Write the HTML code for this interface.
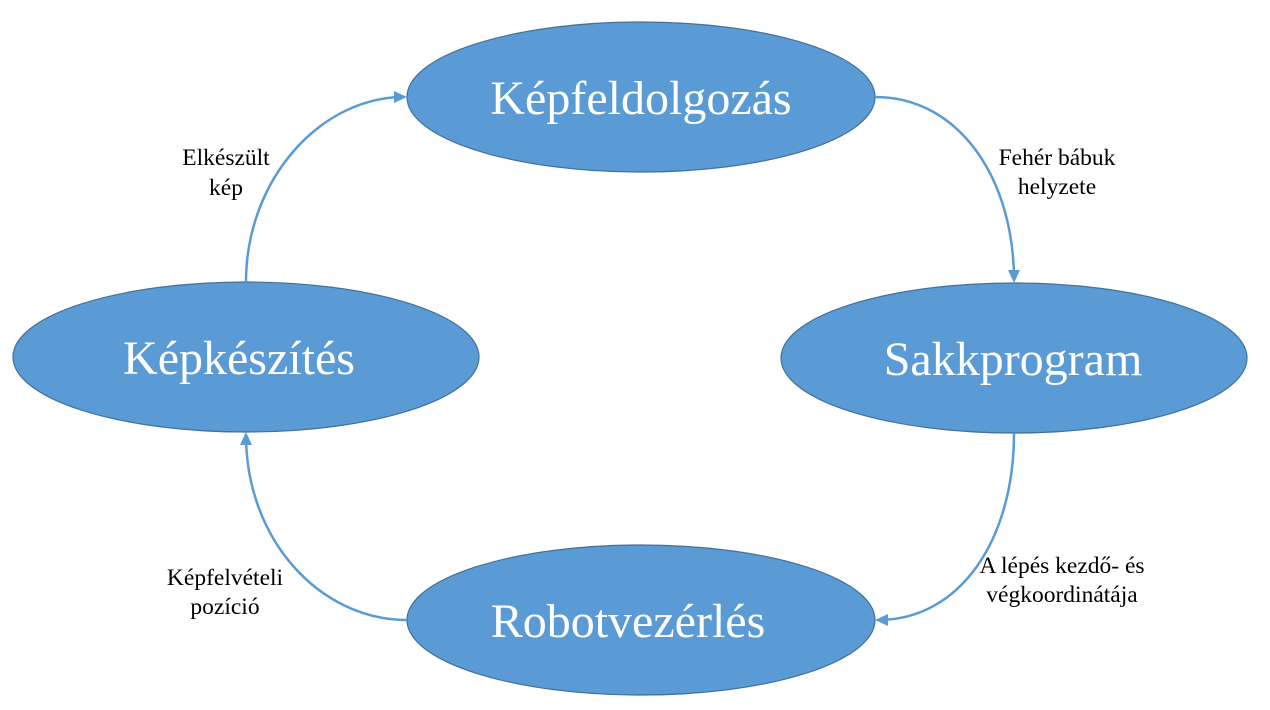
<!DOCTYPE html>
<html><head><meta charset="utf-8"><style>
html,body{margin:0;padding:0;background:#fff;}
svg{display:block;}
text{font-family:"Liberation Serif",serif;}
</style></head><body>
<svg width="1270" height="710" viewBox="0 0 1270 710" xmlns="http://www.w3.org/2000/svg">
<defs>
<marker id="a" markerWidth="13" markerHeight="12" refX="10" refY="6" orient="auto" markerUnits="userSpaceOnUse">
<path d="M0,0 L13,6 L0,12 z" fill="#5b9bd5"/>
</marker>
</defs>
<g fill="#5b9bd5" stroke="#41719c" stroke-width="1.2">
<ellipse cx="641" cy="97" rx="234" ry="75"/>
<ellipse cx="246" cy="357" rx="233" ry="75"/>
<ellipse cx="1014" cy="358" rx="233" ry="75"/>
<ellipse cx="641" cy="620" rx="234" ry="75"/>
</g>
<g fill="#fff" font-size="48" text-anchor="middle">
<text x="641" y="114">Képfeldolgozás</text>
<text x="239" y="374">Képkészítés</text>
<text x="1013" y="375">Sakkprogram</text>
<text x="628" y="637">Robotvezérlés</text>
</g>
<g fill="none" stroke="#5b9bd5" stroke-width="2.5">
<path d="M246,282 C246,180 320,97 404,97" marker-end="url(#a)"/>
<path d="M875,97 C960,97 1014,180 1014,280" marker-end="url(#a)"/>
<path d="M1014,433 C1014,540 960,620 878,620" marker-end="url(#a)"/>
<path d="M407,620 C320,620 246,540 246,435" marker-end="url(#a)"/>
</g>
<g fill="#000" font-size="23.5" text-anchor="middle">
<text x="226" y="165">Elkészült</text>
<text x="226" y="195">kép</text>
<text x="1057" y="165">Fehér bábuk</text>
<text x="1057" y="194">helyzete</text>
<text x="1062" y="573">A lépés kezdő- és</text>
<text x="1062" y="602">végkoordinátája</text>
<text x="225" y="585">Képfelvételi</text>
<text x="225" y="614">pozíció</text>
</g>
</svg>
</body></html>
